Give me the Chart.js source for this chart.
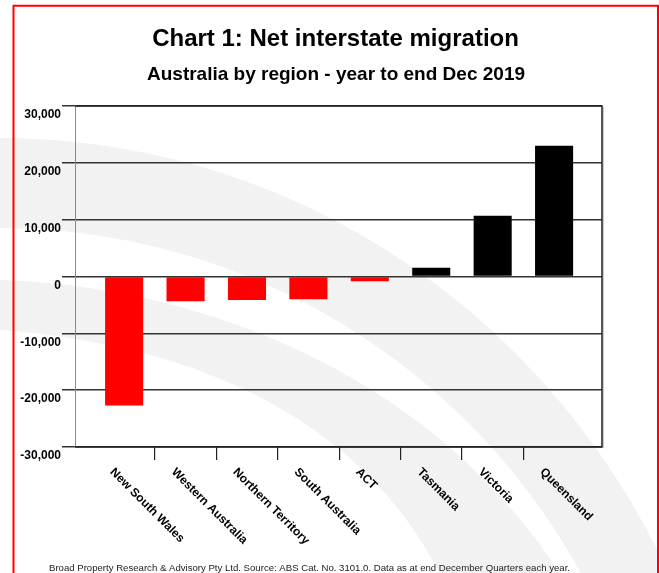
<!DOCTYPE html>
<html>
<head>
<meta charset="UTF-8">
<title>Net interstate migration</title>
<style>
  html, body { margin: 0; padding: 0; background: #fff; }
  #wrap { width: 659px; height: 573px; }
</style>
</head>
<body>
<script src="https://cdn.jsdelivr.net/npm/chart.js@4.4.1/dist/chart.umd.min.js"></script>

<div id="wrap"><canvas id="migrationChart" width="659" height="573"></canvas></div>

<script>
// Net interstate migration by region, year to end Dec 2019
var regions = ['New South Wales', 'Western Australia', 'Northern Territory', 'South Australia',
               'ACT', 'Tasmania', 'Victoria', 'Queensland'];
var netMigration = [-22700, -4350, -4150, -4000, -850, 1550, 10700, 23000];
var yTicks = [-30000, -20000, -10000, 0, 10000, 20000, 30000];

var titleText = 'Chart 1: Net interstate migration';
var subtitleText = 'Australia by region - year to end Dec 2019';
var footnote = 'Broad Property Research & Advisory Pty Ltd. Source: ABS Cat. No. 3101.0. Data as at end December Quarters each year.';

var FONT = 'Arial, "Liberation Sans", Helvetica, sans-serif';

// white page, grey swoosh in the back, headings, red frame on top
var backdrop = {
  id: 'backdrop',
  beforeDraw: function (chart) {
    var ctx = chart.ctx;
    ctx.save();
    ctx.fillStyle = '#ffffff';
    ctx.fillRect(0, 0, chart.width, chart.height);

    ctx.fillStyle = '#f2f2f2';
    // wide band
    ctx.beginPath();
    ctx.ellipse(0, 900, 740, 762, 0, Math.PI, 2 * Math.PI);
    ctx.ellipse(0, 900, 665, 672, 0, 2 * Math.PI, Math.PI, true);
    ctx.closePath();
    ctx.fill('evenodd');
    // narrower band underneath
    ctx.beginPath();
    ctx.moveTo(0, 280);
    ctx.bezierCurveTo(180, 285, 420, 360, 560, 573);
    ctx.lineTo(440, 573);
    ctx.bezierCurveTo(360, 420, 200, 345, 0, 330);
    ctx.closePath();
    ctx.fill();

    ctx.fillStyle = '#000';
    ctx.textAlign = 'center';
    ctx.textBaseline = 'middle';
    ctx.font = 'bold 24px ' + FONT;
    ctx.fillText(titleText, 335.5, 39);
    ctx.font = 'bold 19px ' + FONT;
    ctx.fillText(subtitleText, 336, 75);
    ctx.restore();
  },
  afterDraw: function (chart) {
    var ctx = chart.ctx;
    ctx.save();
    ctx.strokeStyle = '#ff0000';
    ctx.lineWidth = 2;
    ctx.beginPath();
    ctx.moveTo(13.5, chart.height + 5);
    ctx.lineTo(13.5, 5.8);
    ctx.lineTo(658, 5.8);
    ctx.lineTo(658, chart.height + 5);
    ctx.stroke();

    ctx.fillStyle = '#222';
    ctx.font = '9.6px ' + FONT;
    ctx.textAlign = 'left';
    ctx.textBaseline = 'middle';
    ctx.fillText(footnote, 49, 568);
    ctx.restore();
  }
};

// plot frame and slanted region names
var frameAndLabels = {
  id: 'frameAndLabels',
  afterDatasetsDraw: function (chart) {
    var ctx = chart.ctx;
    var a = chart.chartArea;
    var xs = chart.scales.x;
    ctx.save();
    ctx.lineWidth = 1.5;
    ctx.strokeStyle = '#222';
    ctx.beginPath();
    ctx.moveTo(a.left, a.top);
    ctx.lineTo(a.right, a.top);
    ctx.lineTo(a.right, a.bottom);
    ctx.lineTo(a.left, a.bottom);
    ctx.stroke();
    ctx.strokeStyle = '#c8c8c8';
    ctx.lineWidth = 1;
    ctx.beginPath();
    ctx.moveTo(a.right + 1.5, a.top + 1);
    ctx.lineTo(a.right + 1.5, a.bottom + 1);
    ctx.stroke();

    ctx.fillStyle = '#000';
    ctx.font = 'bold 12px ' + FONT;
    ctx.textAlign = 'left';
    ctx.textBaseline = 'top';
    regions.forEach(function (name, i) {
      var x = xs.getPixelForValue(i) - 8;
      ctx.save();
      ctx.translate(x, 466);
      ctx.rotate(Math.PI / 4);
      ctx.fillText(name, 0, 0);
      ctx.restore();
    });
    ctx.restore();
  }
};

var ctx = document.getElementById('migrationChart').getContext('2d');

var migrationChart = new Chart(ctx, {
  type: 'bar',
  data: {
    datasets: [{
      label: 'Net interstate migration',
      data: netMigration.map(function (v, i) { return { x: i, y: v }; }),
      backgroundColor: netMigration.map(function (v) { return v < 0 ? '#ff0000' : '#000000'; }),
      borderWidth: 0,
      barPercentage: 0.62,
      categoryPercentage: 1
    }]
  },
  options: {
    responsive: false,
    animation: false,
    devicePixelRatio: 1,
    layout: { padding: { left: 13, right: 57, top: 106, bottom: 0 } },
    plugins: {
      legend: { display: false },
      tooltip: { enabled: false },
      title: { display: false }
    },
    scales: {
      x: {
        type: 'linear',
        offset: false,
        min: -0.8,
        max: 7.78,
        afterBuildTicks: function (scale) {
          // tick marks sit between the regions
          scale.ticks = regions.slice(1).map(function (r, i) { return { value: i + 0.5 }; });
        },
        afterFit: function (scale) { scale.height = 126; },
        ticks: { display: false },
        grid: { offset: false, drawOnChartArea: false, drawTicks: true, tickLength: 13, color: '#222', lineWidth: 1.2 },
        border: { display: false }
      },
      y: {
        min: yTicks[0],
        max: yTicks[yTicks.length - 1],
        afterBuildTicks: function (scale) {
          scale.ticks = yTicks.map(function (v) { return { value: v }; });
        },
        afterFit: function (scale) { scale.width = 62; },
        ticks: {
          color: '#000',
          font: { family: FONT, size: 12, weight: 'bold' },
          padding: 1,
          labelOffset: 9,
          callback: function (v) { return Number(v).toLocaleString('en-US'); }
        },
        grid: { color: '#333', lineWidth: 1.5, tickLength: 13 },
        border: { color: '#8a8a8a', width: 1 }
      }
    }
  },
  plugins: [backdrop, frameAndLabels]
});
</script>
</body>
</html>
